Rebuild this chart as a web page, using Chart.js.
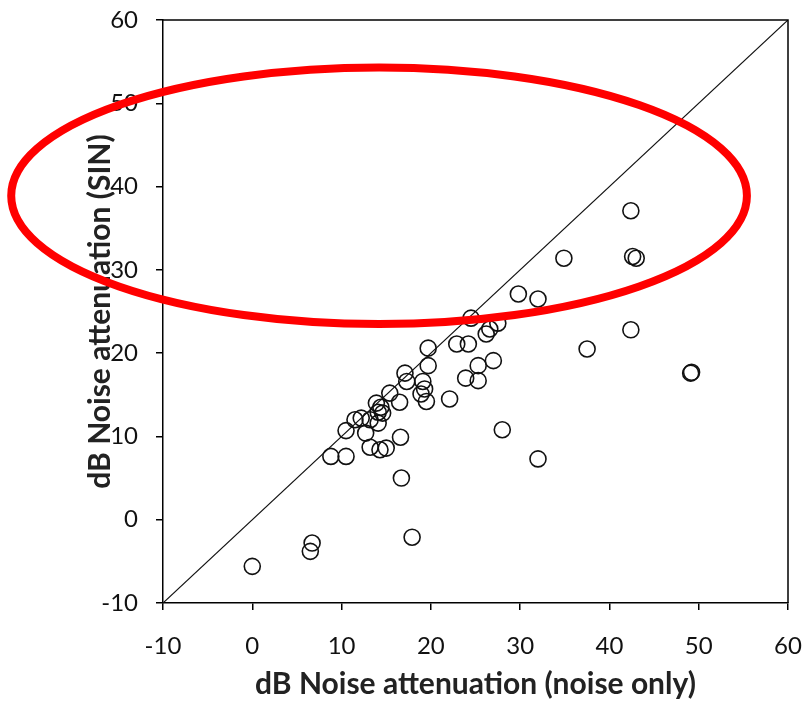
<!DOCTYPE html>
<html>
<head>
<meta charset="utf-8">
<script src="https://cdn.jsdelivr.net/npm/chart.js@4.4.1/dist/chart.umd.min.js"></script>
<style>
    html, body { margin: 0; padding: 0; background: #fff; }
    #wrap { width: 807px; height: 702px; }
</style>
</head>
<body>
<div id="wrap"><canvas id="scatterChart"></canvas></div>
<script>
// Data
const noiseOnly = [0, 6.5, 6.7, 17.9, 16.7, 16.6, 28.0, 32.0, 8.8, 10.5, 10.5, 11.5, 12.2, 13.2, 14.1, 12.7,
    13.2, 14.3, 15.0, 13.9, 14.4, 14.6, 14.1, 15.4, 16.5, 17.1, 17.3, 19.1, 19.3, 18.9, 19.5, 22.1,
    19.7, 19.7, 22.9, 24.2, 23.9, 25.3, 25.3, 27.0, 24.5, 26.2, 26.6, 27.5, 29.8, 32.0, 34.9, 37.5,
    42.4, 42.6, 43.0, 42.4, 49.1, 49.2];
const sinAtten = [-5.6, -3.8, -2.8, -2.1, 5.0, 9.9, 10.8, 7.3, 7.6, 7.6, 10.7, 12.0, 12.2, 12.0, 11.6, 10.4,
    8.7, 8.4, 8.6, 14.0, 13.5, 12.8, 12.9, 15.2, 14.1, 17.6, 16.6, 16.6, 15.7, 15.1, 14.2, 14.5,
    18.5, 20.6, 21.1, 21.1, 17.0, 16.7, 18.5, 19.1, 24.2, 22.3, 22.9, 23.6, 27.1, 26.5, 31.4, 20.5,
    37.1, 31.6, 31.4, 22.8, 17.6, 17.7];
const identityLine = [-10, 60];
const tickValues = [-10, 0, 10, 20, 30, 40, 50, 60];

// Red highlight ellipse (data units)
const ringCenter = { x: 14.2, y: 38.9 };
const ringRadius = { x: 41.2, y: 15.4 };

const points = noiseOnly.map((x, i) => ({ x: x, y: sinAtten[i] }));
const diagonal = identityLine.map((v) => ({ x: v, y: v }));

const fontFace = "Lato, 'Open Sans', sans-serif";

// Frame on top and right sides
const frame = {
    id: "frame",
    afterDatasetsDraw(chart) {
        const { ctx, chartArea } = chart;
        ctx.save();
        ctx.strokeStyle = "#000";
        ctx.lineWidth = 1.5;
        ctx.beginPath();
        ctx.moveTo(chartArea.left, chartArea.top);
        ctx.lineTo(chartArea.right, chartArea.top);
        ctx.lineTo(chartArea.right, chartArea.bottom);
        ctx.stroke();
        ctx.restore();
    },
};

// Red ring drawn over everything
const ring = {
    id: "ring",
    afterDraw(chart) {
        const { ctx, scales } = chart;
        const cx = scales.x.getPixelForValue(ringCenter.x);
        const cy = scales.y.getPixelForValue(ringCenter.y);
        const rx = scales.x.getPixelForValue(ringCenter.x + ringRadius.x) - cx;
        const ry = cy - scales.y.getPixelForValue(ringCenter.y + ringRadius.y);
        ctx.save();
        ctx.strokeStyle = "#ff0000";
        ctx.lineWidth = 8;
        ctx.beginPath();
        ctx.ellipse(cx, cy, rx, ry, 0, 0, Math.PI * 2);
        ctx.stroke();
        ctx.restore();
    },
};

const ctx = document.getElementById("scatterChart").getContext("2d");
const scatterChart = new Chart(ctx, {
    type: "scatter",
    data: {
        datasets: [
            {
                data: points,
                pointRadius: 8,
                pointBorderWidth: 1.6,
                pointBorderColor: "#111",
                pointBackgroundColor: "rgba(0,0,0,0)",
            },
            {
                data: diagonal,
                showLine: true,
                borderColor: "#111",
                borderWidth: 1.2,
                pointRadius: 0,
            },
        ],
    },
    options: {
        responsive: true,
        maintainAspectRatio: false,
        animation: false,
        layout: { padding: { top: 20, right: 19, left: 0, bottom: 0 } },
        plugins: {
            legend: { display: false },
            tooltip: { enabled: false },
        },
        scales: {
            x: {
                type: "linear",
                min: -10,
                max: 60,
                afterBuildTicks: (scale) => {
                    scale.ticks = tickValues.map((v) => ({ value: v }));
                },
                afterFit: (scale) => {
                    scale.height = 99;
                    scale.paddingLeft = 0;
                    scale.paddingRight = 0;
                },
                grid: {
                    display: true,
                    drawOnChartArea: false,
                    drawTicks: true,
                    tickLength: 7,
                    color: "#000",
                    lineWidth: 1.5,
                },
                border: { color: "#000", width: 1.5 },
                ticks: {
                    color: "#111",
                    padding: 22,
                    maxRotation: 0,
                    font: { family: fontFace, size: 24 },
                },
                title: {
                    display: true,
                    text: "dB Noise attenuation (noise only)",
                    color: "#222",
                    font: { family: fontFace, size: 30, weight: "bold" },
                    padding: { top: 8, bottom: 0 },
                },
            },
            y: {
                type: "linear",
                min: -10,
                max: 60,
                afterBuildTicks: (scale) => {
                    scale.ticks = tickValues.map((v) => ({ value: v }));
                },
                afterFit: (scale) => {
                    scale.width = 163;
                    scale.paddingTop = 0;
                    scale.paddingBottom = 0;
                },
                grid: {
                    display: true,
                    drawOnChartArea: false,
                    drawTicks: true,
                    tickLength: 7,
                    color: "#000",
                    lineWidth: 1.5,
                },
                border: { color: "#000", width: 1.5 },
                ticks: {
                    color: "#111",
                    padding: 18,
                    font: { family: fontFace, size: 24 },
                },
                title: {
                    display: true,
                    text: "dB Noise attenuation (SIN)",
                    color: "#222",
                    font: { family: fontFace, size: 30, weight: "bold" },
                    padding: { top: 82, bottom: 0 },
                },
            },
        },
    },
    plugins: [frame, ring],
});
</script>
</body>
</html>
